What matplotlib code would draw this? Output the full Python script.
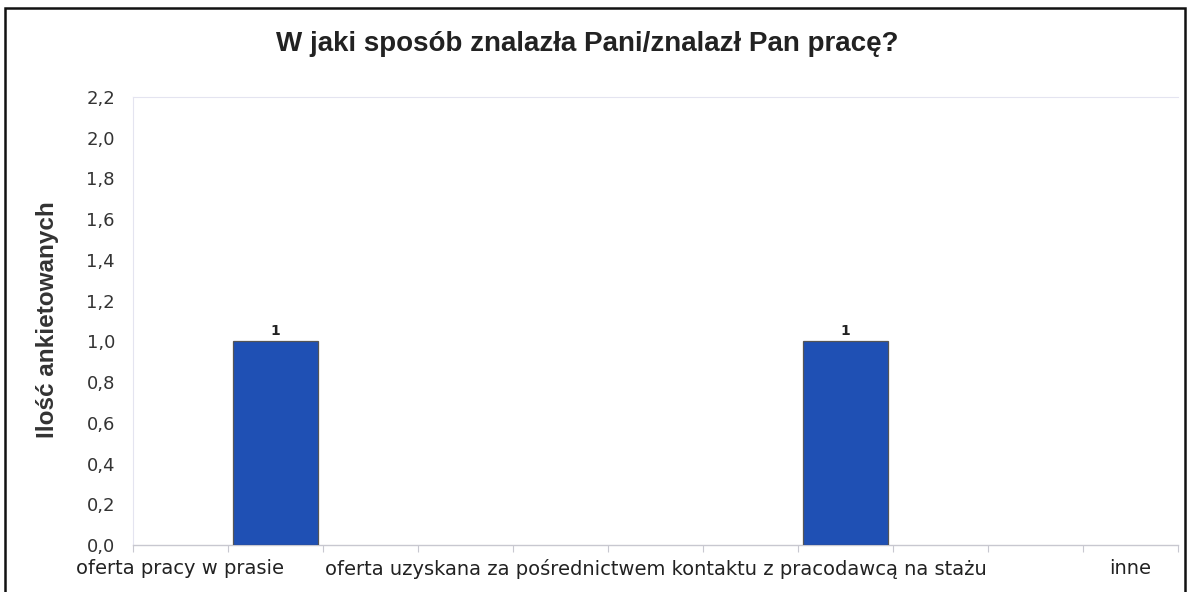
import matplotlib
matplotlib.use("Agg")
import matplotlib.pyplot as plt
from matplotlib.patches import Rectangle

categories = ["oferta pracy w prasie", "", "", "", "",
              "oferta uzyskana za pośrednictwem kontaktu z pracodawcą na stażu",
              "", "", "", "", "inne"]
values = [0, 1, 0, 0, 0, 0, 0, 1, 0, 0, 0]
yticks = [0.0, 0.2, 0.4, 0.6, 0.8, 1.0, 1.2, 1.4, 1.6, 1.8, 2.0, 2.2]
title = "W jaki sposób znalazła Pani/znalazł Pan pracę?"
ylabel = "Ilość ankietowanych"

W, H = 1189, 592
fig = plt.figure(figsize=(W / 100, H / 100), dpi=100)
ax = fig.add_axes([133 / W, 1 - 545 / H, (1178 - 133) / W, (545 - 97) / H])

x = list(range(len(categories)))
bars = ax.bar(x, values, width=0.9, color="#1f50b4", edgecolor="#555555", linewidth=0.9, zorder=3)
for b, v in zip(bars, values):
    if not v:
        b.set_linewidth(0)
for xi, v in zip(x, values):
    if v:
        ax.text(xi, v + 0.015, f"{v}", ha="center", va="bottom", fontsize=10,
                fontweight="bold", color="#222222")

ax.set_xlim(-0.5, len(categories) - 0.5)
ax.set_ylim(0, 2.2)
ax.set_yticks(yticks)
ax.set_yticklabels([f"{t:.1f}".replace(".", ",") for t in yticks], fontsize=13, color="#333333")
ax.tick_params(axis="y", length=0, pad=13)

# category boundaries as tick marks
ax.set_xticks([i - 0.5 for i in range(len(categories) + 1)], minor=False)
ax.set_xticklabels([""] * (len(categories) + 1))
ax.tick_params(axis="x", which="major", length=5, color="#c8c8d0", direction="out")
ax.set_xticks(x, minor=True)
ax.set_xticklabels(categories, minor=True, fontsize=14, color="#222222")
ax.tick_params(axis="x", which="minor", length=0, pad=10)

for s in ["top", "left"]:
    ax.spines[s].set_color("#e4e4f0")
    ax.spines[s].set_linewidth(0.8)
ax.spines["right"].set_visible(False)
ax.spines["bottom"].set_color("#c8c8d0")
ax.spines["bottom"].set_linewidth(1.0)

fig.text(587 / W, 1 - 44 / H, title, ha="center", va="center", fontsize=20,
         fontweight="bold", family="Liberation Sans", color="#222222")
fig.text(48 / W, 1 - 320 / H, ylabel, ha="center", va="center", rotation=90,
         fontsize=17.5, fontweight="bold", family="Liberation Sans", color="#333333")

# outer border box
fig.patches.append(Rectangle((5 / W, -0.05), (1185 - 5) / W, 1.05 - 8 / H,
                             transform=fig.transFigure, fill=False,
                             edgecolor="#111111", linewidth=1.8))

fig.savefig("out.png", dpi=100, facecolor="white")
